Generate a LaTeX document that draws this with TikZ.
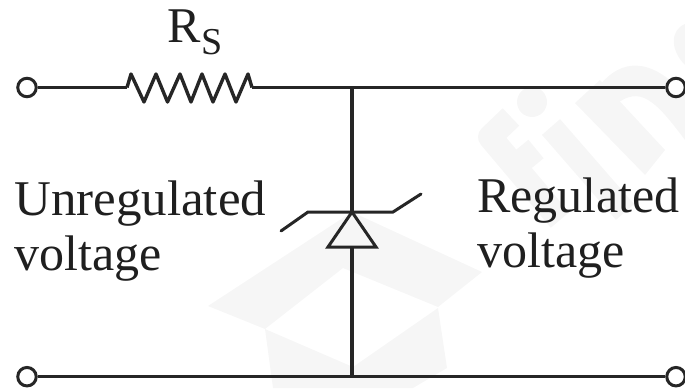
\documentclass[tikz,border=0pt]{standalone}
\usepackage{fontspec}
\setmainfont{Liberation Serif}
\definecolor{wire}{HTML}{262626}
\definecolor{ink}{HTML}{1F1F1F}
\definecolor{wm}{HTML}{F6F6F6}
\tikzset{
  wireline/.style={draw=wire,line width=3.4pt,line join=miter},
  thinline/.style={draw=wire,line width=3pt,line join=miter,line cap=round},
  terminal/.style={circle,draw=wire,fill=white,line width=3pt,minimum size=18.5pt,inner sep=0pt},
  lab/.style={text=ink,font=\fontsize{50pt}{60pt}\selectfont,inner sep=0pt,anchor=base west},
  wmstroke/.style={draw=wm,line width=24pt,line join=round}
}
\begin{document}
\begin{tikzpicture}[x=1pt,y=-1pt]
\useasboundingbox (0,0) rectangle (685,388);
% faint watermark: box
\fill[wm] (352,212) -- (482,272) -- (438,307) -- (343,268) -- (265,329) -- (208,306) -- cycle;
\fill[wm] (265,329) -- (353,367) -- (438,308) -- (447,368) -- (413,388) -- (273,388) -- cycle;
% faint watermark: letters
\draw[wmstroke] (511,117) -- (490,137) -- (560,220);
\draw[wmstroke] (508,172) -- (536,149);
\fill[wm] (532,102) circle (15);
\draw[wmstroke] (551,127) -- (625,212);
\fill[wm] (575,103) -- (600,80) -- (665,150) -- (645,175) -- cycle;
\fill[wm] (600,85) .. controls (620,60) and (650,55) .. (685,95) -- (685,140) .. controls (655,100) and (640,85) .. (615,105) -- cycle;
\fill[wm] (685,24) .. controls (670,30) and (670,50) .. (685,65) -- cycle;
% terminals
\node[terminal] (tl) at (27,87.5) {};
\node[terminal] (tr) at (676,87.5) {};
\node[terminal] (bl) at (27,376.7) {};
\node[terminal] (br) at (676,376.7) {};
\coordinate (ra) at (127,87.5);
\coordinate (rb) at (252,87.5);
\coordinate (jt) at (352,87.5);
\coordinate (jb) at (352,376.7);
\coordinate (apex) at (352,212);
\coordinate (basem) at (352,247);
% wires
\draw[wireline] (tl) -- (ra);
\draw[wireline,line join=round] (ra) -- (131,74) -- (144,102) -- (156,74) -- (167.5,102) -- (180,74) -- (191,102) -- (202,74) -- (213,102) -- (225,74) -- (236,102) -- (248,74) -- (rb);
\draw[wireline] (rb) -- (tr);
\draw[wireline] (bl) -- (br);
\draw[wireline] (jt) -- (apex);
\draw[wireline] (basem) -- (jb);
% zener
\draw[thinline] (281,231) -- (308,212) -- (393,212) -- (421,194);
\draw[thinline,line cap=butt] (apex) -- (376,247) -- (328,247) -- cycle;
% labels
\node[lab] (rs) at (167,42) {R\kern1pt\raisebox{-12pt}{\fontsize{38pt}{40pt}\selectfont S}};
\node[lab] (ula) at (14,215) {\scalebox{1.02}[1]{Unregulated}};
\node[lab] (ulb) at (14,270) {voltage};
\node[lab] (rla) at (477,212) {Regulated};
\node[lab] (rlb) at (477,267) {voltage};
\end{tikzpicture}
\end{document}
